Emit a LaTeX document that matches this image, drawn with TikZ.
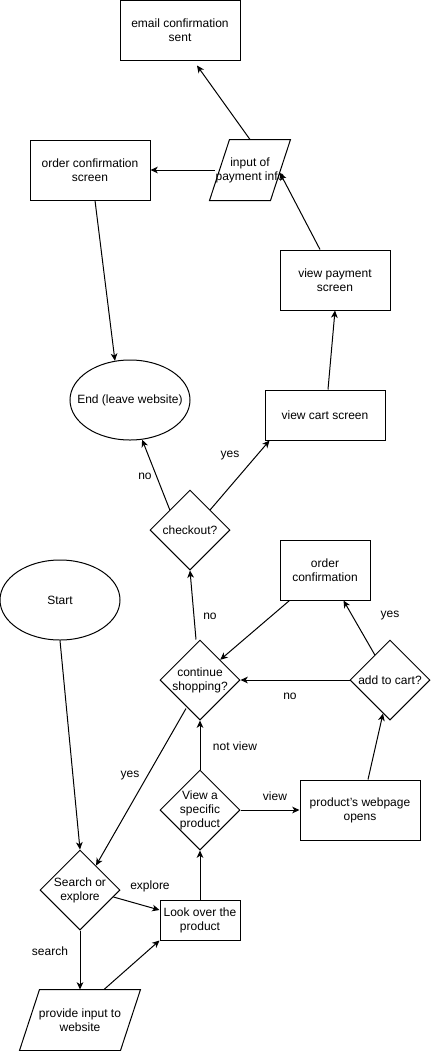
\documentclass[tikz,border=0pt]{standalone}
\usepackage{fontspec}
\setmainfont{Liberation Sans}
\usetikzlibrary{shapes.geometric,arrows.meta,calc}
\begin{document}
\begin{tikzpicture}[x=0.75pt,y=-0.75pt,
  every node/.style={font=\fontsize{9pt}{10.5pt}\selectfont, align=center},
  every path/.style={line width=0.75pt},
  box/.style={draw, rectangle, inner sep=0pt, line width=0.75pt},
  dia/.style={draw, diamond, inner sep=0pt, minimum width=60pt, minimum height=60pt, line width=0.75pt},
  oval/.style={draw, ellipse, inner sep=0pt, minimum width=90pt, minimum height=60pt, line width=0.75pt},
  slantbox/.style={rectangle, inner sep=0pt},
  txt/.style={label={[align=center]center:#1}},
  arr/.style={-{Stealth[length=5.5pt, width=5pt, inset=1.6pt]}, line width=0.75pt},
]
\useasboundingbox (0,0) rectangle (432,1051);

% process boxes
\node[box, minimum width=90pt, minimum height=45pt] (email) at (180,30) {email confirmation\\sent};
\node[box, minimum width=90pt, minimum height=45pt] (ordscreen) at (90,170) {order confirmation\\screen};
\node[box, minimum width=82.5pt, minimum height=45pt] (viewpay) at (335,280) {view payment\\screen};
\node[box, minimum width=90pt, minimum height=37.5pt] (viewcart) at (325,415) {view cart screen};
\node[box, minimum width=67.5pt, minimum height=45pt] (ordconf) at (325,570) {order\\confirmation};
\node[box, minimum width=90pt, minimum height=45pt] (webpage) at (360,810) {product's webpage\\opens};
\node[box, minimum width=60pt, minimum height=30pt] (lookover) at (200,920) {Look over the\\product};

% terminals
\node[oval, txt={End (leave website)}] (endn) at (130,400) {};
\node[oval, txt={Start}] (start) at (60,600) {};

% decisions
\node[dia, txt={checkout?}] (checkout) at (190,530) {};
\node[dia, txt={continue\\shopping?}] (contshop) at (200,680) {};
\node[dia, txt={add to cart?}] (addcart) at (390,680) {};
\node[dia, txt={View a\\specific\\product}] (viewprod) at (200,810) {};
\node[dia, txt={Search or\\explore}] (search) at (80,890) {};

% input / output (parallelograms)
\node[slantbox, minimum width=60pt, minimum height=45pt] (payinfo) at (250,170) {};
\node[slantbox, minimum width=90pt, minimum height=45pt] (provide) at (80,1020) {};
\foreach \n in {payinfo,provide}
  \draw (\n.south west) -- ($(\n.north west)+(20,0)$) -- (\n.north east)
        -- ($(\n.south east)+(-20,0)$) -- cycle;
\node (payinfotext) at (250,170) {input of\\payment info};
\node (providetext) at (80,1020) {provide input to\\website};

% connectors
\draw[arr] (payinfo.north) -- ($(email.south)+(17,5)$);
\draw[arr] ($(payinfo.center)+(-35,0)$) -- (ordscreen.east);
\draw[arr] ($(viewpay.north)+(-15,0)$) -- ($(payinfo.center)+(30,3)$);
\draw[arr] ($(ordscreen.south)+(5,0)$) -- (endn.111);
\draw[arr] ($(viewcart.north)+(3,0)$) -- (viewpay.south);
\draw[arr] (checkout.north west) -- (endn.-73);
\draw[arr] (checkout.north east) -- ($(viewcart.south west)+(5,0)$);
\draw[arr] ($(contshop.north)+(-4,0)$) -- (checkout.south);
\draw[arr] ($(ordconf.south west)+(10,0)$) -- (contshop.north east);
\draw[arr] (addcart.west) -- (contshop.east);
\draw[arr] ($(addcart.north west)+(5,-5)$) -- ($(ordconf.south east)+(-27,0)$);
\draw[arr] ($(contshop.south)+(-14,-12)$) -- ($(search.north)+(16,16)$);
\draw[arr] (viewprod.north) -- (contshop.south);
\draw[arr] ($(webpage.north)+(8,0)$) -- ($(addcart.south)+(-7,-7)$);
\draw[arr] (start.south) -- (search.north);
\draw[arr] (viewprod.east) -- (webpage.west);
\draw[arr] (lookover.north) -- (viewprod.south);
\draw[arr] ($(search.east)+(-7,7)$) -- ($(lookover.west)+(0,-10)$);
\draw[arr] (search.south) -- (provide.north);
\draw[arr] ($(provide.north)+(24,0)$) -- (lookover.south west);

% connector labels
\node (l1) at (145,476) {no};
\node (l2) at (230,456) {yes};
\node (l3) at (210,616) {no};
\node (l4) at (290,696) {no};
\node (l5) at (390,616) {yes};
\node (l6) at (130,776) {yes};
\node (l7) at (235,746) {not view};
\node (l8) at (275,796) {view};
\node (l9) at (150,886) {explore};
\node (l10) at (50,951) {search};
\end{tikzpicture}
\end{document}
